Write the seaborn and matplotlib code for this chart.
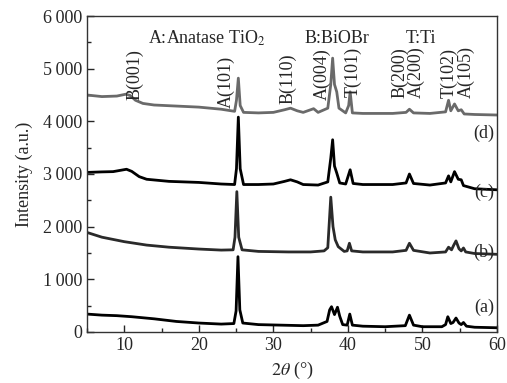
import pandas as pd
import seaborn as sns
import matplotlib.pyplot as plt
from matplotlib.ticker import MultipleLocator, FixedLocator, FixedFormatter

# XRD patterns (2theta in degrees, intensity in a.u.)
a_x = [5, 7, 9, 11, 14, 17, 20, 23, 24.7, 25.0, 25.25, 25.5, 25.9, 28, 31, 34, 36, 37.2, 37.55,
       37.8, 38.2, 38.6, 38.9, 39.3, 39.9, 40.25, 40.6, 42, 45, 47.7, 48.25, 48.8, 50, 52.6,
       53.1, 53.4, 53.8, 54.1, 54.5, 54.9, 55.2, 55.5, 55.9, 57, 60]
a_y = [340, 320, 310, 290, 250, 200, 170, 150, 160, 400, 1430, 420, 170, 140, 130, 120, 130, 200, 420,
       480, 330, 470, 300, 140, 130, 340, 130, 110, 100, 120, 320, 130, 100, 100,
       140, 290, 160, 180, 265, 170, 140, 180, 110, 90, 80]

b_x = [5, 7, 10, 13, 16, 20, 23, 24.6, 24.85, 25.1, 25.35, 25.8, 28, 32, 35, 36.8, 37.3, 37.7,
       38.0, 38.3, 38.7, 39.5, 39.9, 40.2, 40.5, 42, 46, 47.8, 48.25, 48.8, 51, 53.1, 53.5,
       53.9, 54.2, 54.5, 54.9, 55.2, 55.5, 55.8, 57, 60]
b_y = [1890, 1800, 1715, 1650, 1610, 1575, 1555, 1560, 1800, 2665, 1800, 1560, 1530, 1520, 1520, 1540, 1600, 2560,
       2000, 1750, 1620, 1530, 1540, 1685, 1540, 1520, 1520, 1550, 1685, 1550, 1500, 1520, 1610,
       1560, 1650, 1730, 1580, 1540, 1595, 1520, 1490, 1475]

c_x = [5, 7, 8.5, 9.5, 10.3, 11, 12, 13, 16, 20, 23, 24.8, 25.05, 25.3, 25.55, 26, 28, 30, 31.5, 32.3, 33.2,
       34, 36, 37.3, 37.7, 37.95, 38.2, 38.5, 38.9, 39.7, 40.3, 40.7, 42, 46, 47.8, 48.25, 48.8, 51,
       53.1, 53.5, 53.8, 54.3, 54.8, 55.2, 55.5, 57, 60]
c_y = [3030, 3040, 3045, 3070, 3090, 3050, 2950, 2900, 2860, 2840, 2810, 2800, 3100, 4080, 3100, 2800, 2800, 2810, 2860, 2890, 2850,
       2800, 2790, 2850, 3300, 3650, 3150, 3020, 2830, 2810, 3080, 2820, 2800, 2800, 2830, 3000, 2820, 2790,
       2830, 2965, 2850, 3045, 2900, 2890, 2780, 2720, 2700]

d_x = [5, 7, 9, 10.2, 10.8, 11.5, 12.5, 14, 17, 20, 23, 24.8, 25.05, 25.3, 25.55, 26, 28, 30, 31.5, 32.3, 33.2,
       34, 35.4, 36, 37.3, 37.7, 37.95, 38.2, 38.5, 38.8, 39.7, 40.1, 40.3, 40.6, 42, 46, 47.8, 48.25,
       48.8, 51, 53.1, 53.5, 53.8, 54.3, 54.8, 55.2, 55.6, 57, 60]
d_y = [4500, 4470, 4480, 4515, 4490, 4400, 4340, 4310, 4290, 4270, 4230, 4190, 4400, 4820, 4300, 4170, 4160, 4170, 4220, 4250, 4200,
       4170, 4240, 4170, 4250, 4700, 5200, 4700, 4560, 4250, 4160, 4300, 4560, 4160, 4150, 4150, 4170, 4230,
       4160, 4150, 4180, 4400, 4200, 4330, 4200, 4220, 4140, 4130, 4120]

ytick_vals = [0, 1000, 2000, 3000, 4000, 5000, 6000]
ytick_text = ['0', '1\u2009000', '2\u2009000', '3\u2009000', '4\u2009000', '5\u2009000', '6\u2009000']

# peak labels (text, 2theta position)
peak_labels = ['B(001)', 'A(101)', 'B(110)', 'A(004)', 'T(101)', 'B(200)', 'A(200)', 'T(102)', 'A(105)']
peak_pos = [11.4, 23.7, 32.0, 36.5, 40.7, 47.0, 49.2, 53.6, 55.9]
peak_base = [4400, 4250, 4330, 4400, 4460, 4440, 4440, 4440, 4440]

curve_names = ['(a)', '(b)', '(c)', '(d)']
curve_label_y = [460, 1520, 2650, 3780]

sns.set_style('ticks')
plt.rcParams['font.family'] = ['Liberation Serif', 'DejaVu Serif']
plt.rcParams['mathtext.fontset'] = 'stix'

fig = plt.figure(figsize=(5.07, 3.83), dpi=100)
ax = fig.add_axes([0.1716, 0.1332, 0.8087, 0.825])

for xs, ys, col in [(a_x, a_y, 'black'), (b_x, b_y, '#2a2a2a'), (c_x, c_y, 'black'), (d_x, d_y, '#6a6a6a')]:
    df = pd.DataFrame({'x': xs, 'y': ys})
    sns.lineplot(data=df, x='x', y='y', ax=ax, color=col, lw=2.0, estimator=None, sort=False)

ax.set_xlim(5, 60)
ax.set_ylim(0, 6000)
ax.xaxis.set_major_locator(MultipleLocator(10))
ax.xaxis.set_minor_locator(MultipleLocator(5))
ax.yaxis.set_major_locator(FixedLocator(ytick_vals))
ax.yaxis.set_major_formatter(FixedFormatter(ytick_text))
ax.yaxis.set_minor_locator(MultipleLocator(500))
ax.tick_params(which='both', direction='in', labelsize=13, top=False, right=False)
ax.tick_params(which='major', length=5, width=1)
ax.tick_params(which='minor', length=3, width=1)
for s in ax.spines.values():
    s.set_linewidth(1)
    s.set_color('#333333')

ax.set_xlabel('$2\\theta$ (°)', fontsize=13, labelpad=4)
ax.set_ylabel('Intensity (a.u.)', fontsize=13, labelpad=7)

ax.text(13.2, 5580, 'A:Anatase TiO$_2$', fontsize=13, va='center')
ax.text(34.2, 5580, 'B:BiOBr', fontsize=13, va='center')
ax.text(47.7, 5580, 'T:Ti', fontsize=13, va='center')

for t, p, b in zip(peak_labels, peak_pos, peak_base):
    ax.text(p, b, t, rotation=90, fontsize=13, ha='center', va='bottom')

for t, y in zip(curve_names, curve_label_y):
    ax.text(59.6, y, t, fontsize=13, ha='right', va='center')

fig.savefig('out.png', dpi=100, facecolor='white')
